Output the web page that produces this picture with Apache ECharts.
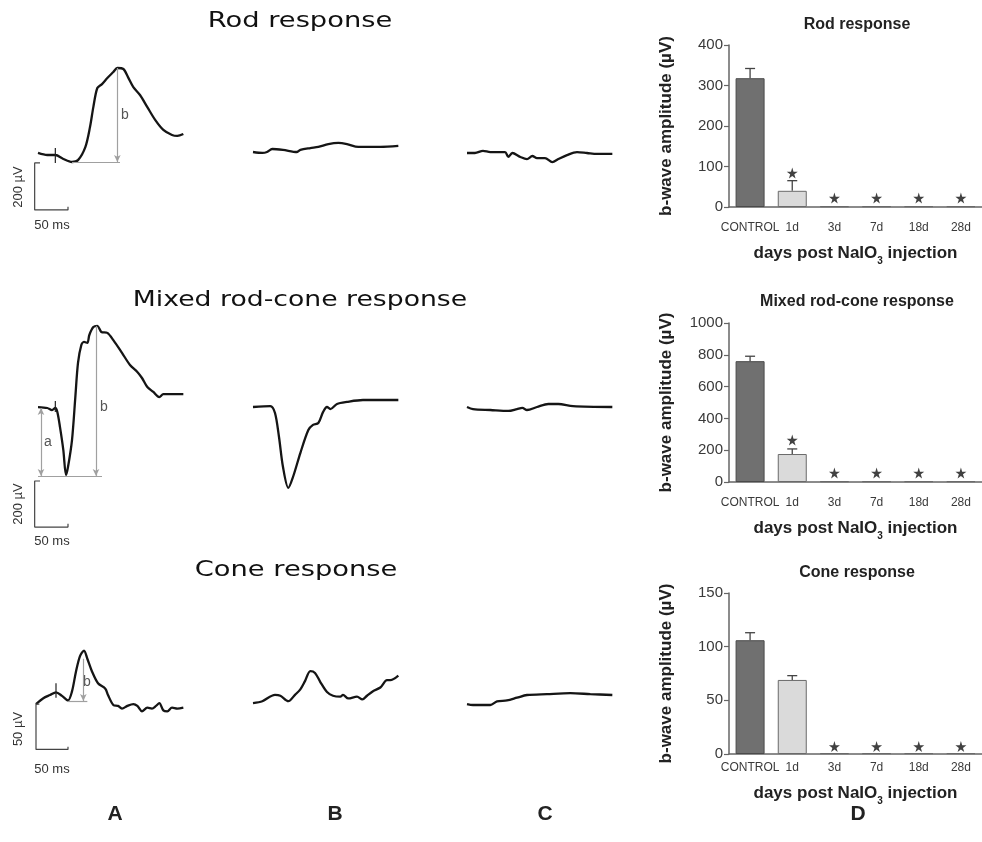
<!DOCTYPE html>
<html>
<head>
<meta charset="utf-8">
<script src="https://cdn.jsdelivr.net/npm/echarts@6/dist/echarts.min.js"></script>
<style>
html, body { margin: 0; padding: 0; background: #fff; }
#main { width: 982px; height: 842px; }
</style>
</head>
<body>
<div id="main"></div>
<script>
// ERG traces, [ms, µV] relative to trace start / pre-stimulus level
var rodA = [[0,9],[14,0],[26,0],[38,-17],[51,-30],[60,-22],[71,34],[78,120],[83,206],[89,288],[96,305],[104,331],[113,357],[119,374],[128,370],[135,335],[143,292],[153,258],[164,206],[176,150],[188,108],[201,86],[209,82],[218,90]];
var rodB = [[0,0],[14,-4],[21,0],[29,13],[45,9],[66,0],[71,9],[86,17],[98,22],[113,34],[128,39],[141,34],[158,22],[171,22],[191,22],[218,26]];
var rodC = [[0,0],[12,0],[24,9],[35,4],[57,4],[62,-17],[68,0],[80,-17],[90,-26],[98,-13],[105,-22],[117,-22],[128,-39],[137,-26],[150,-9],[165,4],[180,0],[195,-4],[218,-4]];
var mixA = [[0,4],[14,0],[21,-9],[26,0],[29,-17],[33,-82],[38,-181],[42,-288],[45,-254],[51,-138],[56,47],[60,194],[65,271],[69,284],[74,280],[77,314],[83,348],[89,353],[95,327],[104,323],[113,292],[126,237],[138,185],[149,155],[156,129],[164,90],[173,69],[182,47],[188,60],[203,60],[218,60]];
var mixB = [[0,0],[26,4],[33,-26],[39,-129],[45,-258],[53,-348],[60,-301],[71,-198],[83,-99],[90,-77],[98,-69],[105,-22],[111,0],[116,-9],[126,13],[141,22],[165,30],[191,30],[218,30]];
var mixC = [[0,0],[9,-9],[35,-13],[62,-17],[75,-9],[83,-4],[90,-13],[105,0],[122,13],[137,13],[159,4],[218,0]];
var coneA = [[0,0],[11,6.5],[21,10],[30,13],[39,9],[48,4],[54,14],[60,36],[66,53],[72,59],[77,50],[84,36],[93,23],[104,17],[108,10],[116,-1],[123,-2],[129,-5],[137,-2],[146,0],[152,-2],[159,-8],[167,-4],[174,-5],[180,-2],[185,1],[191,-7],[197,-8],[204,-4],[212,-5],[221,-4]];
var coneB = [[0,0],[14,2],[33,9],[41,8],[53,2],[63,9],[71,15],[78,24],[86,35],[93,33],[101,23],[111,12],[120,8],[131,7],[135,9],[143,5],[156,7],[164,4],[171,8],[180,13],[191,17],[201,25],[206,25],[218,30]];
var coneC = [[0,0],[9,-1],[24,-1],[35,-1],[45,3],[60,4],[75,7],[90,10],[120,11],[155,12],[185,11],[218,10]];

// scale bars and stimulus markers (ms, µV)
var rodScale = [[3,-34],[-5,-34],[-5,-236],[45,-236],[45,-222]];
var mixScale = [[3,-314],[-5,-314],[-5,-512],[45,-512],[45,-498]];
var coneScale = [[5,0],[0,0],[0,-50],[48,-50],[48,-47]];
var rodStim = [[26,30],[26,-34]];
var mixStim = [[26,30],[26,-17]];
var coneStim = [[30,23],[30,7]];

// amplitude measurement guides
var rodBase = [[51,-30],[123,-30]];
var rodArrowB = [[119,374],[119,-30]];
var mixBase = [[0,-292],[96,-292]];
var mixArrowA = [[4.5,0],[4.5,-292]];
var mixArrowB = [[87,353],[87,-292]];
var coneBase = [[48,3.3],[77,3.3]];
var coneArrowB = [[71,50],[71,3.3]];

// bar charts
var days = ['CONTROL', '1d', '3d', '7d', '18d', '28d'];
var rodMean = [318, 40, 2, 2, 2, 2];
var rodErr = [24, 25, 0, 0, 0, 0];
var rodStar = [null, 84, 22, 22, 22, 22];
var mixMean = [760, 176, 5, 5, 5, 5];
var mixErr = [31, 32, 0, 0, 0, 0];
var mixStar = [null, 264, 57, 57, 57, 57];
var coneMean = [106, 69, 0.8, 0.8, 0.8, 0.8];
var coneErr = [7, 4, 0, 0, 0, 0];
var coneStar = [null, null, 7, 7, 7, 7];

var MS_PX = 1.5, UV_BIG = 4.3, UV_CONE = 1.087;
var FONT = '"Liberation Sans", Arial, sans-serif';
var STAR = 'path://M50,0 L61,35 L98,35 L68,57 L79,91 L50,70 L21,91 L32,57 L2,35 L39,35 Z';

var chart = echarts.init(document.getElementById('main'), null, { renderer: 'canvas' });
var option = { backgroundColor: '#fff', animation: false, grid: [], xAxis: [], yAxis: [], series: [], graphic: [] };

function tracePanel(ox, oy, uv) {
    var i = option.grid.length;
    option.grid.push({ left: ox - 20, top: oy - 130, width: 260, height: 270 });
    option.xAxis.push({ type: 'value', gridIndex: i, show: false, min: -20 * MS_PX, max: 240 * MS_PX });
    option.yAxis.push({ type: 'value', gridIndex: i, show: false, min: -140 * uv, max: 130 * uv });
    return i;
}
function seg(a, b, arrowStart, arrowEnd) {
    return [{ coord: a, symbol: arrowStart ? 'arrow' : 'none' }, { coord: b, symbol: arrowEnd ? 'arrow' : 'none' }];
}
function trace(i, data, guides) {
    var s = { type: 'line', xAxisIndex: i, yAxisIndex: i, data: data, smooth: 0.3, symbol: 'none',
        lineStyle: { color: '#151515', width: 2.3 }, silent: true };
    if (guides) {
        s.markLine = { silent: true, symbolSize: [5, 7], label: { show: false },
            lineStyle: { color: '#a0a0a0', width: 1.2, type: 'solid' }, data: guides };
    }
    option.series.push(s);
}
function thin(i, data, color, w) {
    option.series.push({ type: 'line', xAxisIndex: i, yAxisIndex: i, data: data, symbol: 'none', silent: true,
        lineStyle: { color: color, width: w } });
}
function text(x, y, str, size, opts) {
    opts = opts || {};
    option.graphic.push({ type: 'text', x: x, y: y, rotation: opts.rot || 0, scaleX: opts.sx || 1,
        style: { text: str, fontSize: size, fontFamily: opts.family || FONT, fontWeight: opts.weight || 'normal',
            fill: opts.color || '#222', textAlign: 'center', textVerticalAlign: 'middle' } });
}

// rod row
var g = tracePanel(38, 155, UV_BIG);
trace(g, rodA, [seg(rodBase[0], rodBase[1]), seg(rodArrowB[0], rodArrowB[1], false, true)]);
thin(g, rodScale, '#444', 1.2);
thin(g, rodStim, '#222', 1.2);
trace(tracePanel(253, 152, UV_BIG), rodB);
trace(tracePanel(467, 153, UV_BIG), rodC);
// mixed row
g = tracePanel(38, 408, UV_BIG);
trace(g, mixA, [seg(mixBase[0], mixBase[1]), seg(mixArrowA[0], mixArrowA[1], true, true), seg(mixArrowB[0], mixArrowB[1], false, true)]);
thin(g, mixScale, '#444', 1.2);
thin(g, mixStim, '#222', 1.2);
trace(tracePanel(253, 407, UV_BIG), mixB);
trace(tracePanel(467, 407, UV_BIG), mixC);
// cone row
g = tracePanel(36, 706, UV_CONE);
trace(g, coneA, [seg(coneBase[0], coneBase[1]), seg(coneArrowB[0], coneArrowB[1], false, true)]);
thin(g, coneScale, '#444', 1.2);
thin(g, coneStim, '#222', 1.2);
trace(tracePanel(253, 704, UV_CONE), coneB);
trace(tracePanel(467, 706, UV_CONE), coneC);

function barPanel(top, height, max, interval, mean, err, star, labelMargin, nameGap) {
    var i = option.grid.length;
    var axisCol = '#666';
    option.grid.push({ left: 729, top: top, width: 253, height: height });
    option.xAxis.push({ type: 'category', gridIndex: i, data: days,
        axisLine: { lineStyle: { color: axisCol, width: 1.5 } },
        axisTick: { alignWithLabel: true, length: 5, lineStyle: { color: axisCol, width: 1.2 } },
        axisLabel: { fontSize: 12, color: '#3a3a3a', margin: labelMargin, interval: 0, hideOverlap: false,
            fontFamily: '"Liberation Sans Narrow", "Liberation Sans", sans-serif' },
        name: 'days post NaIO{s|3} injection', nameLocation: 'middle', nameGap: nameGap,
        nameTextStyle: { fontSize: 17, fontWeight: 'bold', color: '#222', fontFamily: FONT,
            rich: { s: { fontSize: 10, fontWeight: 'bold', color: '#222', fontFamily: FONT, verticalAlign: 'bottom', lineHeight: 26 } } } });
    option.yAxis.push({ type: 'value', gridIndex: i, min: 0, max: max, interval: interval,
        axisLine: { show: true, lineStyle: { color: axisCol, width: 1.5 } },
        axisTick: { show: true, length: 5, lineStyle: { color: axisCol, width: 1.2 } },
        splitLine: { show: false },
        axisLabel: { fontSize: 15, color: '#3a3a3a', margin: 6, fontFamily: FONT,
            formatter: function (v) { return String(v); } },
        name: 'b-wave amplitude (µV)', nameLocation: 'middle', nameGap: 54,
        nameTextStyle: { fontSize: 17, fontWeight: 'bold', color: '#222', fontFamily: FONT } });
    option.series.push({ type: 'bar', xAxisIndex: i, yAxisIndex: i, barWidth: 29, silent: true,
        data: mean.map(function (v, k) {
            return { value: v, itemStyle: k === 0 ? { color: '#707070', borderColor: '#4a4a4a', borderWidth: 1 }
                                                  : { color: '#dadada', borderColor: '#6a6a6a', borderWidth: 1 } };
        }) });
    option.series.push({ type: 'custom', xAxisIndex: i, yAxisIndex: i, silent: true,
        data: mean.map(function (v, k) { return [k, v, v + err[k]]; }).filter(function (d) { return d[2] > d[1]; }),
        renderItem: function (params, api) {
            var p0 = api.coord([api.value(0), api.value(1)]);
            var p1 = api.coord([api.value(0), api.value(2)]);
            var st = { stroke: '#444', lineWidth: 1.3 };
            return { type: 'group', children: [
                { type: 'line', shape: { x1: p0[0], y1: p0[1], x2: p1[0], y2: p1[1] }, style: st },
                { type: 'line', shape: { x1: p1[0] - 5, y1: p1[1], x2: p1[0] + 5, y2: p1[1] }, style: st }
            ] };
        } });
    option.series.push({ type: 'scatter', xAxisIndex: i, yAxisIndex: i, symbol: STAR, symbolSize: 11, silent: true,
        itemStyle: { color: '#111' },
        data: star.map(function (v, k) { return [k, v]; }).filter(function (d) { return d[1] != null; }) });
}
barPanel(45, 162, 400, 100, rodMean, rodErr, rodStar, 15, 33);
barPanel(323, 159, 1000, 200, mixMean, mixErr, mixStar, 15, 33);
barPanel(593, 161, 150, 50, coneMean, coneErr, coneStar, 8, 26);

// texts
var TITLE_FAMILY = '"DejaVu Sans", sans-serif';
text(300, 22, 'Rod response', 21, { family: TITLE_FAMILY, sx: 1.3, color: '#111' });
text(300, 301, 'Mixed rod-cone response', 21, { family: TITLE_FAMILY, sx: 1.27, color: '#111' });
text(296, 571, 'Cone response', 21, { family: TITLE_FAMILY, sx: 1.3, color: '#111' });
text(857, 25, 'Rod response', 16, { weight: 'bold' });
text(857, 302, 'Mixed rod-cone response', 16, { weight: 'bold' });
text(857, 573, 'Cone response', 16, { weight: 'bold' });
text(18, 187, '200 µV', 13, { rot: Math.PI / 2, color: '#333' });
text(52, 225, '50 ms', 13, { color: '#333' });
text(18, 504, '200 µV', 13, { rot: Math.PI / 2, color: '#333' });
text(52, 541, '50 ms', 13, { color: '#333' });
text(18, 729, '50 µV', 13, { rot: Math.PI / 2, color: '#333' });
text(52, 769, '50 ms', 13, { color: '#333' });
text(125, 115, 'b', 14, { color: '#555' });
text(48, 442, 'a', 14, { color: '#555' });
text(104, 407, 'b', 14, { color: '#555' });
text(87, 682, 'b', 14, { color: '#555' });
text(115, 814, 'A', 21, { weight: 'bold' });
text(335, 814, 'B', 21, { weight: 'bold' });
text(545, 814, 'C', 21, { weight: 'bold' });
text(858, 814, 'D', 21, { weight: 'bold' });

chart.setOption(option);
</script>
</body>
</html>
